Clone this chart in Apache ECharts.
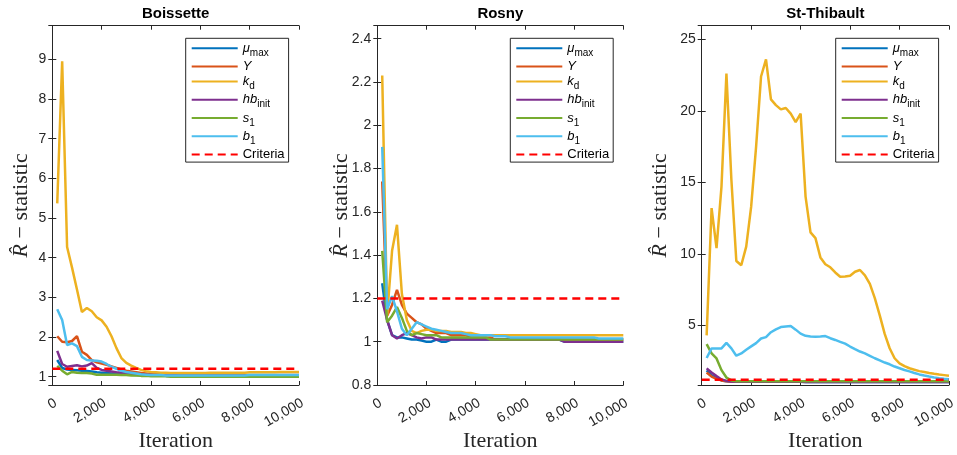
<!DOCTYPE html>
<html><head><meta charset="utf-8">
<script src="https://cdn.jsdelivr.net/npm/echarts@6/dist/echarts.min.js"></script>
<style>html,body{margin:0;padding:0;background:#fff}#c{width:957px;height:455px}</style>
</head><body><div id="c"></div>
<script>
// ---------------- data ----------------
const iterations = [200,400,600,800,1000,1200,1400,1600,1800,2000,2200,2400,2600,2800,3000,3200,3400,3600,3800,4000,4200,4400,4600,4800,5000,5200,5400,5600,5800,6000,6200,6400,6600,6800,7000,7200,7400,7600,7800,8000,8200,8400,8600,8800,9000,9200,9400,9600,9800,10000];
const xTicks = [0, 2000, 4000, 6000, 8000, 10000];
const criteriaX = [0, 10000];
const criteriaValue = 1.2;
const panelTitles = ['Boissette', 'Rosny', 'St-Thibault'];
const seriesNames = ['mu_max', 'Y', 'k_d', 'hb_init', 's_1', 'b_1'];

// Boissette
const boisMu = [1.42,1.22,1.18,1.17,1.16,1.15,1.14,1.13,1.11,1.10,1.09,1.08,1.07,1.06,1.06,1.05,1.04,1.04,1.03,1.03,1.03,1.03,1.02,1.02,1.02,1.02,1.02,1.02,1.02,1.02,1.02,1.02,1.02,1.02,1.02,1.02,1.02,1.02,1.02,1.02,1.02,1.02,1.02,1.02,1.02,1.02,1.02,1.02,1.02,1.02];
const boisY  = [2.02,1.88,1.87,1.90,2.02,1.63,1.55,1.42,1.36,1.33,1.30,1.26,1.22,1.18,1.15,1.13,1.11,1.09,1.08,1.07,1.06,1.06,1.05,1.05,1.05,1.05,1.05,1.04,1.04,1.04,1.04,1.04,1.04,1.04,1.04,1.04,1.04,1.04,1.04,1.04,1.04,1.04,1.04,1.04,1.04,1.04,1.04,1.04,1.04,1.04];
const boisKd = [5.37,8.95,4.27,3.75,3.20,2.63,2.73,2.65,2.50,2.42,2.26,2.02,1.72,1.47,1.35,1.28,1.22,1.17,1.14,1.12,1.11,1.10,1.10,1.09,1.09,1.09,1.09,1.09,1.09,1.09,1.09,1.10,1.10,1.10,1.10,1.10,1.10,1.10,1.10,1.11,1.11,1.11,1.11,1.11,1.11,1.12,1.12,1.12,1.12,1.12];
const boisHb = [1.65,1.32,1.25,1.27,1.29,1.26,1.28,1.34,1.22,1.17,1.15,1.13,1.11,1.10,1.08,1.07,1.06,1.05,1.04,1.04,1.03,1.03,1.03,1.03,1.03,1.02,1.02,1.02,1.02,1.02,1.02,1.02,1.02,1.02,1.02,1.02,1.02,1.02,1.02,1.02,1.02,1.02,1.02,1.02,1.02,1.02,1.02,1.02,1.02,1.02];
const boisS1 = [1.27,1.15,1.06,1.12,1.10,1.09,1.09,1.08,1.05,1.05,1.05,1.05,1.05,1.04,1.04,1.03,1.03,1.02,1.02,1.01,1.01,1.01,1.01,1.00,1.00,1.00,1.00,1.00,1.00,1.00,1.00,1.00,1.00,1.00,1.00,1.00,1.00,1.00,1.00,1.00,1.00,1.00,1.00,1.00,1.00,1.00,1.00,1.00,1.00,1.00];
const boisB1 = [2.70,2.43,1.80,1.84,1.77,1.50,1.42,1.41,1.40,1.38,1.32,1.25,1.20,1.15,1.12,1.10,1.08,1.06,1.05,1.04,1.04,1.04,1.03,1.03,1.03,1.03,1.03,1.03,1.03,1.03,1.03,1.03,1.03,1.03,1.03,1.03,1.03,1.03,1.03,1.04,1.04,1.04,1.04,1.04,1.04,1.04,1.04,1.04,1.04,1.04];

// Rosny
const rosMu = [1.27,1.10,1.03,1.02,1.02,1.015,1.01,1.01,1.005,1.00,1.00,1.01,1.00,1.00,1.01,1.01,1.01,1.01,1.01,1.01,1.01,1.01,1.01,1.01,1.01,1.01,1.01,1.01,1.01,1.01,1.01,1.01,1.01,1.01,1.01,1.01,1.01,1.00,1.00,1.00,1.00,1.00,1.00,1.00,1.00,1.00,1.00,1.00,1.00,1.00];
const rosY  = [1.74,1.12,1.17,1.24,1.17,1.13,1.11,1.09,1.08,1.06,1.05,1.04,1.04,1.04,1.03,1.03,1.03,1.03,1.02,1.02,1.02,1.02,1.02,1.01,1.01,1.01,1.01,1.01,1.01,1.01,1.01,1.01,1.01,1.01,1.01,1.01,1.01,1.01,1.01,1.01,1.01,1.01,1.01,1.01,1.01,1.01,1.01,1.01,1.01,1.01];
const rosKd = [2.23,1.12,1.42,1.54,1.22,1.10,1.05,1.04,1.05,1.055,1.055,1.05,1.05,1.05,1.045,1.045,1.045,1.04,1.04,1.035,1.03,1.03,1.03,1.03,1.03,1.03,1.03,1.03,1.03,1.03,1.03,1.03,1.03,1.03,1.03,1.03,1.03,1.03,1.03,1.03,1.03,1.03,1.03,1.03,1.03,1.03,1.03,1.03,1.03,1.03];
const rosHb = [1.19,1.10,1.03,1.015,1.03,1.04,1.03,1.02,1.015,1.02,1.02,1.01,1.01,1.01,1.01,1.01,1.01,1.01,1.01,1.01,1.01,1.01,1.01,1.01,1.01,1.01,1.01,1.01,1.01,1.01,1.01,1.01,1.01,1.01,1.01,1.01,1.01,1.00,1.00,1.00,1.00,1.00,1.00,1.00,1.00,1.00,1.00,1.00,1.00,1.00];
const rosS1 = [1.42,1.09,1.12,1.16,1.11,1.05,1.03,1.04,1.035,1.03,1.03,1.03,1.02,1.02,1.02,1.02,1.02,1.02,1.02,1.02,1.02,1.02,1.01,1.01,1.01,1.01,1.01,1.01,1.01,1.01,1.01,1.01,1.01,1.01,1.01,1.01,1.01,1.01,1.01,1.01,1.01,1.01,1.01,1.01,1.01,1.01,1.01,1.01,1.01,1.01];
const rosB1 = [1.90,1.15,1.21,1.14,1.06,1.03,1.06,1.09,1.08,1.07,1.06,1.055,1.05,1.045,1.04,1.04,1.04,1.035,1.03,1.03,1.03,1.03,1.03,1.025,1.025,1.025,1.02,1.02,1.02,1.02,1.02,1.02,1.02,1.02,1.02,1.02,1.02,1.02,1.02,1.02,1.02,1.02,1.02,1.02,1.015,1.015,1.015,1.015,1.015,1.015];

// St-Thibault
const stMu = [1.85,1.50,1.30,1.15,1.10,1.07,1.06,1.05,1.05,1.05,1.05,1.05,1.05,1.05,1.05,1.05,1.05,1.05,1.05,1.05,1.04,1.04,1.04,1.04,1.04,1.04,1.04,1.04,1.04,1.04,1.04,1.04,1.04,1.04,1.04,1.04,1.04,1.04,1.04,1.04,1.04,1.04,1.04,1.04,1.04,1.04,1.04,1.04,1.04,1.04];
const stY  = [1.70,1.42,1.25,1.15,1.10,1.08,1.07,1.06,1.06,1.06,1.06,1.06,1.06,1.06,1.06,1.06,1.06,1.06,1.06,1.06,1.05,1.05,1.05,1.05,1.05,1.05,1.05,1.05,1.05,1.05,1.05,1.05,1.05,1.05,1.05,1.05,1.05,1.05,1.05,1.05,1.05,1.05,1.05,1.05,1.05,1.05,1.05,1.05,1.05,1.05];
const stKd = [4.30,13.2,10.4,14.7,22.6,15.2,9.50,9.20,10.5,13.3,17.5,22.4,23.6,20.8,20.4,20.1,20.2,19.8,19.2,19.8,14.0,11.5,11.1,9.75,9.27,9.06,8.70,8.40,8.42,8.47,8.75,8.87,8.50,7.90,6.90,5.70,4.40,3.40,2.70,2.34,2.15,2.00,1.90,1.80,1.74,1.67,1.61,1.56,1.52,1.48];
const stHb = [1.99,1.70,1.45,1.22,1.12,1.08,1.06,1.05,1.05,1.05,1.05,1.05,1.05,1.05,1.05,1.05,1.05,1.05,1.05,1.05,1.04,1.04,1.04,1.04,1.04,1.04,1.04,1.04,1.04,1.04,1.04,1.04,1.04,1.04,1.04,1.04,1.04,1.04,1.04,1.04,1.04,1.04,1.04,1.04,1.04,1.04,1.04,1.04,1.04,1.04];
const stS1 = [3.69,3.04,2.69,1.87,1.35,1.15,1.10,1.10,1.10,1.10,1.10,1.10,1.10,1.10,1.10,1.10,1.10,1.10,1.10,1.10,1.10,1.10,1.10,1.10,1.10,1.10,1.10,1.10,1.10,1.10,1.10,1.10,1.10,1.10,1.10,1.10,1.10,1.10,1.10,1.10,1.10,1.10,1.10,1.10,1.10,1.10,1.10,1.10,1.10,1.10];
const stB1 = [2.72,3.39,3.39,3.39,3.78,3.39,2.88,3.04,3.30,3.53,3.76,4.08,4.18,4.52,4.72,4.88,4.92,4.95,4.70,4.42,4.27,4.22,4.20,4.22,4.25,4.10,3.98,3.85,3.72,3.52,3.34,3.17,3.04,2.87,2.70,2.55,2.40,2.28,2.12,2.00,1.88,1.78,1.67,1.57,1.49,1.42,1.36,1.31,1.27,1.24];

const panelValues = [
  [boisMu, boisY, boisKd, boisHb, boisS1, boisB1],
  [rosMu, rosY, rosKd, rosHb, rosS1, rosB1],
  [stMu, stY, stKd, stHb, stS1, stB1]
];

// ---------------- styling / layout ----------------
const colors = ['#0072BD', '#D95319', '#EDB120', '#7E2F8E', '#77AC30', '#4DBEEE'];
const axisColor = '#262626';
const panels = [
  {left: 52.3, width: 246.7, yMin: 0.79, yMax: 9.85, split: 9, legendLeft: 185.7, yNameGap: 20},
  {left: 377.3, width: 246.0, yMin: 0.8, yMax: 2.46, interval: 0.2, legendLeft: 510.3, yNameGap: 25},
  {left: 701.7, width: 247.3, yMin: 0.83, yMax: 25.95, split: 5, legendLeft: 835.7, yNameGap: 30}
];
const gridTop = 25.7, gridHeight = 359.3;

const legendRich = {
  i: {fontStyle: 'italic', fontSize: 13, lineHeight: 20, fontFamily: 'Liberation Sans', color: '#000'},
  n: {fontSize: 13, lineHeight: 20, fontFamily: 'Liberation Sans', color: '#000'},
  s: {fontSize: 10, lineHeight: 11, verticalAlign: 'bottom', fontFamily: 'Liberation Sans', color: '#000'}
};
const legendLabel = {
  'mu_max': '{i|\u03bc}{s|max}',
  'Y': '{i|Y}',
  'k_d': '{i|k}{s|d}',
  'hb_init': '{i|hb}{s|init}',
  's_1': '{i|s}{s|1}',
  'b_1': '{i|b}{s|1}',
  'Criteria': '{n|Criteria}'
};

const grid = [], xAxis = [], yAxis = [], series = [], title = [], legend = [];
panels.forEach((p, i) => {
  grid.push({left: p.left, top: gridTop, width: p.width, height: gridHeight, show: false,
    containLabel: false, outerBoundsMode: 'none'});
  title.push({
    text: panelTitles[i], left: p.left + p.width / 2, top: 6, textAlign: 'center', padding: 0,
    textStyle: {fontSize: 15, fontWeight: 'bold', fontFamily: 'Liberation Sans', color: '#000'}
  });
  const xBase = {
    type: 'value', gridIndex: i, min: xTicks[0], max: xTicks[xTicks.length - 1],
    interval: xTicks[1] - xTicks[0],
    axisLine: {show: true, lineStyle: {color: axisColor, width: 1}},
    axisTick: {show: true, inside: true, length: 4, lineStyle: {color: axisColor}},
    splitLine: {show: false}
  };
  xAxis.push(Object.assign({}, xBase, {
    position: 'bottom',
    axisLabel: {rotate: 30, margin: 11, verticalAlign: 'top', fontSize: 14, color: axisColor, fontFamily: 'Liberation Sans'},
    name: 'Iteration', nameLocation: 'middle', nameGap: 45, nameMoveOverlap: false,
    nameTextStyle: {fontFamily: 'Liberation Serif', fontSize: 22, color: axisColor}
  }));
  const yBase = {
    type: 'value', gridIndex: i, min: p.yMin, max: p.yMax,
    axisLine: {show: true, lineStyle: {color: axisColor, width: 1}},
    axisTick: {show: true, inside: true, length: 4, lineStyle: {color: axisColor}},
    splitLine: {show: false}
  };
  if (p.interval) yBase.interval = p.interval; else yBase.splitNumber = p.split;
  yAxis.push(Object.assign({}, yBase, {
    position: 'left',
    axisLabel: {margin: 6, fontSize: 14, color: axisColor, fontFamily: 'Liberation Sans',
      showMinLabel: p.interval ? true : false, showMaxLabel: false},
    name: '{r|R\u0302} \u2212 statistic', nameLocation: 'middle', nameGap: p.yNameGap, nameRotate: 90,
    nameMoveOverlap: false,
    nameTextStyle: {fontFamily: 'Liberation Serif', fontSize: 22, color: axisColor,
      rich: {r: {fontStyle: 'italic', fontFamily: 'Liberation Serif', fontSize: 22, color: axisColor}}}
  }));
  seriesNames.forEach((nm, k) => {
    series.push({
      type: 'line', name: nm, xAxisIndex: i, yAxisIndex: i, symbol: 'none',
      lineStyle: {color: colors[k], width: 2.5}, itemStyle: {color: colors[k]},
      data: iterations.map((it, j) => [it, panelValues[i][k][j]]),
      z: 2 + k, animation: false
    });
  });
  series.push({
    type: 'line', name: 'Criteria', xAxisIndex: i, yAxisIndex: i, symbol: 'none',
    lineStyle: {color: '#FF0000', width: 2.5, type: [8, 5]}, itemStyle: {color: '#FF0000'},
    data: criteriaX.map(x => [x, criteriaValue]), z: 10, animation: false
  });
  legend.push({
    orient: 'vertical', left: p.legendLeft, top: 38.3,
    data: seriesNames.concat(['Criteria']),
    itemWidth: 46, itemHeight: 14, itemGap: 1.8,
    padding: [3.5, 4, 1, 5],
    borderColor: axisColor, borderWidth: 1, backgroundColor: '#fff',
    selectedMode: false,
    itemStyle: {opacity: 0},
    formatter: name => legendLabel[name],
    textStyle: {rich: legendRich, fontSize: 13}
  });
});
// mirrored top / right axes (ticks only)
panels.forEach((p, i) => {
  xAxis.push({
    type: 'value', gridIndex: i, position: 'top', min: xTicks[0], max: xTicks[xTicks.length - 1],
    interval: xTicks[1] - xTicks[0],
    axisLine: {show: true, lineStyle: {color: axisColor, width: 1}},
    axisTick: {show: true, inside: true, length: 4, lineStyle: {color: axisColor}},
    axisLabel: {show: false}, splitLine: {show: false}
  });
  const ry = {
    type: 'value', gridIndex: i, position: 'right', min: p.yMin, max: p.yMax,
    axisLine: {show: true, lineStyle: {color: axisColor, width: 1}},
    axisTick: {show: true, inside: true, length: 4, lineStyle: {color: axisColor}},
    axisLabel: {show: false}, splitLine: {show: false}
  };
  if (p.interval) ry.interval = p.interval; else ry.splitNumber = p.split;
  yAxis.push(ry);
});

const chart = echarts.init(document.getElementById('c'), null, {renderer: 'canvas'});
chart.setOption({
  animation: false,
  backgroundColor: '#fff',
  title, grid, xAxis, yAxis, legend, series
});
</script></body></html>
